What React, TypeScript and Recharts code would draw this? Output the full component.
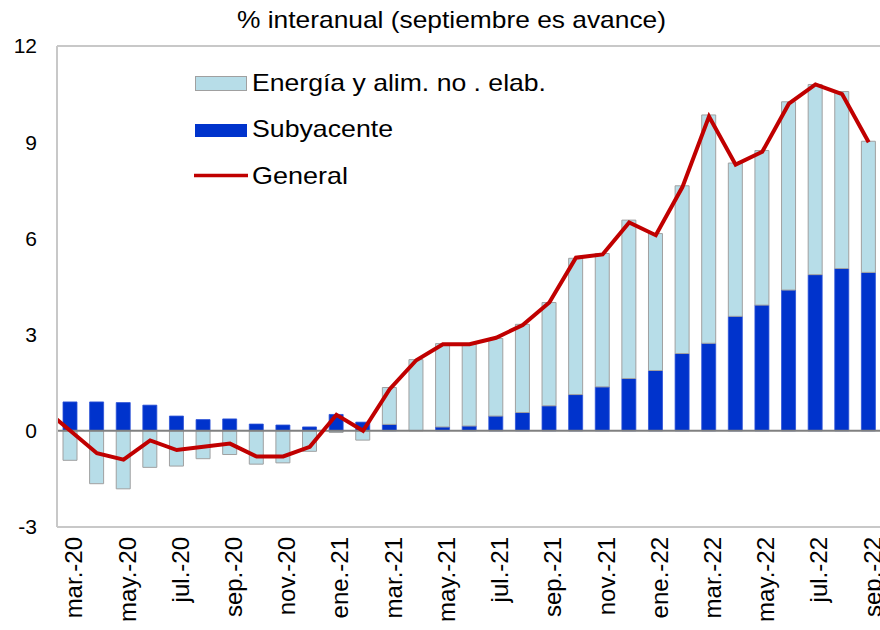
import React from 'react';
import { ComposedChart, Bar, Line, XAxis, YAxis, ReferenceLine, Legend } from 'recharts';

const months = [
  'feb.-20', 'mar.-20', 'abr.-20', 'may.-20', 'jun.-20', 'jul.-20', 'ago.-20', 'sep.-20', 'oct.-20', 'nov.-20', 'dic.-20',
  'ene.-21', 'feb.-21', 'mar.-21', 'abr.-21', 'may.-21', 'jun.-21', 'jul.-21', 'ago.-21', 'sep.-21', 'oct.-21', 'nov.-21', 'dic.-21',
  'ene.-22', 'feb.-22', 'mar.-22', 'abr.-22', 'may.-22', 'jun.-22', 'jul.-22', 'ago.-22', 'sep.-22',
];

const subyacente: (number | null)[] = [
  null, 0.90, 0.90, 0.88, 0.80, 0.46, 0.35, 0.37, 0.21, 0.18, 0.12,
  0.51, 0.27, 0.20, 0.00, 0.12, 0.15, 0.46, 0.57, 0.78, 1.13, 1.37, 1.63,
  1.88, 2.41, 2.73, 3.57, 3.92, 4.39, 4.87, 5.06, 4.94,
];

const energia: (number | null)[] = [
  null, -0.92, -1.65, -1.81, -1.14, -1.10, -0.87, -0.74, -1.04, -1.00, -0.64,
  -0.05, -0.29, 1.15, 2.22, 2.60, 2.55, 2.42, 2.75, 3.22, 4.25, 4.16, 4.94,
  4.27, 5.23, 7.12, 4.78, 4.82, 5.87, 5.93, 5.52, 4.09,
];

const general: number[] = [
  0.7, 0.0, -0.7, -0.9, -0.3, -0.6, -0.5, -0.4, -0.8, -0.8, -0.5,
  0.5, 0.0, 1.3, 2.2, 2.7, 2.7, 2.9, 3.3, 4.0, 5.4, 5.5, 6.5,
  6.1, 7.6, 9.8, 8.3, 8.7, 10.2, 10.8, 10.5, 9.0,
];

const xTicks = [1, 3, 5, 7, 9, 11, 13, 15, 17, 19, 21, 23, 25, 27, 29, 31];
const yTicks = [-3, 0, 3, 6, 9, 12];

const titleText = '% interanual (septiembre es avance)';
const legendLabels = ['Energía y alim. no . elab.', 'Subyacente', 'General'];

const data = months.map((m, i) => ({
  x: i,
  label: m,
  sub: subyacente[i],
  en: energia[i],
  gen: general[i],
}));

const FONT = '"Liberation Sans", Arial, sans-serif';
const C_EN = '#b7dde8';
const C_SUB = '#0033cc';
const C_GEN = '#c00000';

const XTick = (props: any) => {
  const { x, y, payload } = props;
  const label = months[payload.value] ?? '';
  return (
    <text
      x={x}
      y={y}
      transform={`rotate(-90 ${x} ${y})`}
      textAnchor="end"
      dy={12}
      fontSize={24}
      fill="#000"
      fontFamily={FONT}
    >
      {label}
    </text>
  );
};

const renderLegend = () => (
  <svg width={880} height={200} style={{ display: 'block' }}>
    <rect x={195.5} y={76.5} width={51} height={14} fill={C_EN} stroke="#a0a0a0" strokeWidth={1} />
    <text x={252} y={91} fontSize={24} fontFamily={FONT} fill="#000" textLength={294} lengthAdjust="spacingAndGlyphs">
      {legendLabels[0]}
    </text>
    <rect x={195} y={124} width={52} height={13} fill={C_SUB} />
    <text x={252} y={137} fontSize={24} fontFamily={FONT} fill="#000" textLength={141} lengthAdjust="spacingAndGlyphs">
      {legendLabels[1]}
    </text>
    <line x1={194} x2={248} y1={175.5} y2={175.5} stroke={C_GEN} strokeWidth={3.5} />
    <text x={252} y={184} fontSize={24} fontFamily={FONT} fill="#000" textLength={96} lengthAdjust="spacingAndGlyphs">
      {legendLabels[2]}
    </text>
  </svg>
);

export default function App() {
  return (
    <div
      style={{
        position: 'absolute',
        left: 0,
        top: 0,
        width: 880,
        height: 630,
        overflow: 'hidden',
        background: '#fff',
        fontFamily: FONT,
      }}
    >
      <ComposedChart
        width={884}
        height={630}
        data={data}
        stackOffset="sign"
        margin={{ top: 46, right: 2, bottom: 0, left: 0 }}
      >
        <XAxis
          type="number"
          dataKey="x"
          domain={[0.5, 31.5]}
          allowDataOverflow
          ticks={xTicks}
          interval={0}
          tick={<XTick />}
          tickLine={false}
          tickSize={0}
          tickMargin={10}
          height={103}
          axisLine={{ stroke: '#c8c8c8', strokeWidth: 2 }}
        />
        <YAxis
          type="number"
          domain={[-3, 12]}
          ticks={yTicks}
          interval={0}
          width={57}
          tickLine={false}
          tickSize={0}
          tickMargin={20}
          tick={{ fontSize: 21, fill: '#000', fontFamily: FONT }}
          axisLine={{ stroke: '#c8c8c8', strokeWidth: 2 }}
        />
        <ReferenceLine y={12} stroke="#c8c8c8" strokeWidth={2} />
        <Bar dataKey="sub" stackId="a" fill={C_SUB} stroke="#2b50d6" strokeWidth={0.8} barSize={14} isAnimationActive={false} />
        <Bar dataKey="en" stackId="a" fill={C_EN} stroke="#a0a0a0" strokeWidth={1} barSize={14} isAnimationActive={false} />
        <ReferenceLine y={0} stroke="#808080" strokeWidth={2} />
        <Line
          type="linear"
          dataKey="gen"
          stroke={C_GEN}
          strokeWidth={4}
          dot={false}
          activeDot={false}
          isAnimationActive={false}
        />
        <Legend
          content={renderLegend}
          layout="horizontal"
          verticalAlign="middle"
          align="center"
          wrapperStyle={{ position: 'absolute', left: 0, top: 0, width: 880, height: 200 }}
        />
      </ComposedChart>
      <svg
        width={880}
        height={40}
        style={{ position: 'absolute', left: 0, top: 0, display: 'block' }}
      >
        <text
          x={237}
          y={27.5}
          fontSize={24}
          fontFamily={FONT}
          fill="#000"
          textLength={429}
          lengthAdjust="spacingAndGlyphs"
        >
          {titleText}
        </text>
      </svg>
    </div>
  );
}
